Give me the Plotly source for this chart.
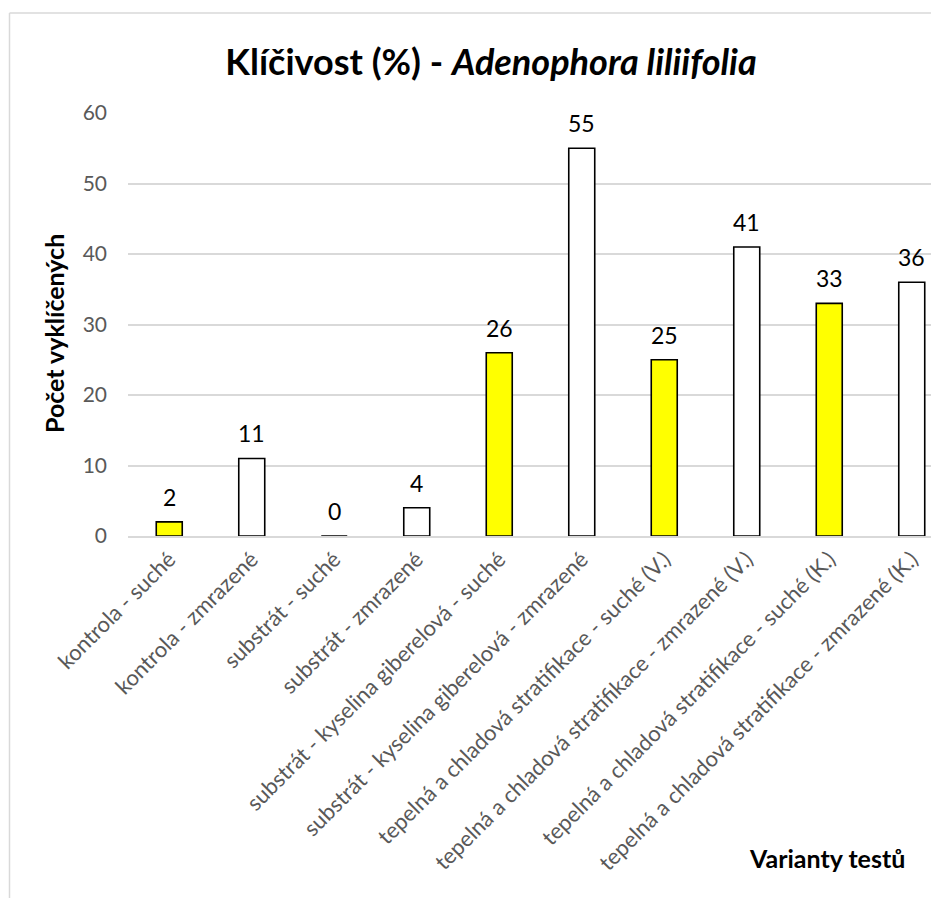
import plotly.graph_objects as go

categories = [
    "kontrola - suché",
    "kontrola - zmrazené",
    "substrát - suché",
    "substrát - zmrazené",
    "substrát - kyselina giberelová - suché",
    "substrát - kyselina giberelová - zmrazené",
    "tepelná a chladová stratifikace - suché (V.)",
    "tepelná a chladová stratifikace - zmrazené (V.)",
    "tepelná a chladová stratifikace - suché (K.)",
    "tepelná a chladová stratifikace - zmrazené (K.)",
]
values = [2, 11, 0, 4, 26, 55, 25, 41, 33, 36]
y_ticks = [0, 10, 20, 30, 40, 50, 60]

YELLOW = "#FFFF00"
WHITE = "#FFFFFF"
colors = [YELLOW if "suché" in c else WHITE for c in categories]

# page offset from default body margin
OFF = 8
W, H = 939 - OFF, 906 - 2 * OFF
# target page positions
PLOT_LEFT, PLOT_TOP, PLOT_BOTTOM = 128, 113, 536
L = PLOT_LEFT - OFF
T = PLOT_TOP - OFF
B = H - (PLOT_BOTTOM - OFF)
R = 0
pw = W - L - R
ph = H - T - B

def px_x(x):  # page x -> paper
    return (x - OFF - L) / pw

def px_y(y):  # page y -> paper
    return (PLOT_BOTTOM - y) / ph

FONT = "Lato"

fig = go.Figure()
fig.add_trace(go.Bar(
    x=list(range(len(categories))),
    y=values,
    width=0.315,
    marker=dict(color=colors, line=dict(color="#000000", width=1.6)),
    hoverinfo="skip",
))

annotations = []
for i, v in enumerate(values):
    annotations.append(dict(
        x=i, y=v, xref="x", yref="y", text=str(v), showarrow=False,
        yanchor="middle", yshift=25,
        font=dict(family=FONT, size=23, color="#000000"),
    ))

annotations.append(dict(
    x=px_x(54), y=px_y(334), xref="paper", yref="paper",
    text="<b>Počet vyklíčených</b>", textangle=-90, showarrow=False,
    xanchor="center", yanchor="middle",
    font=dict(family=FONT, size=25, color="#000000"),
))
annotations.append(dict(
    x=px_x(827), y=px_y(858), xref="paper", yref="paper",
    text="<b>Varianty testů</b>", showarrow=False,
    xanchor="center", yanchor="middle",
    font=dict(family=FONT, size=25, color="#000000"),
))

BORDER_X = OFF + 1.5
shapes = [
    dict(type="line", xref="paper", yref="paper",
         x0=px_x(BORDER_X), x1=px_x(BORDER_X), y0=px_y(13), y1=px_y(H + 40),
         line=dict(color="#D9D9D9", width=1.5)),
    dict(type="line", xref="paper", yref="paper",
         x0=px_x(BORDER_X), x1=px_x(W + 40), y0=px_y(13), y1=px_y(13),
         line=dict(color="#D9D9D9", width=1.5)),
]

fig.update_layout(
    width=W, height=H,
    margin=dict(l=L, r=R, t=T, b=B, autoexpand=False),
    paper_bgcolor="#FFFFFF",
    plot_bgcolor="#FFFFFF",
    showlegend=False,
    title=dict(
        text="<b>Klíčivost (%) - <i>Adenophora liliifolia</i></b>",
        x=(491 - OFF) / W, xanchor="center",
        y=1 - (62 - OFF) / H, yanchor="middle", yref="container",
        font=dict(family=FONT, size=36, color="#000000"),
    ),
    xaxis=dict(
        range=[-0.5, -0.5 + pw / 82.5],
        tickmode="array",
        tickvals=list(range(len(categories))),
        ticktext=categories,
        tickangle=-45,
        tickfont=dict(family=FONT, size=22, color="#595959"),
        showgrid=False,
        showline=True, linecolor="#D9D9D9", linewidth=1.5,
        ticks="",
        zeroline=False,
    ),
    yaxis=dict(
        range=[0, 60],
        tickmode="array",
        tickvals=y_ticks,
        tickfont=dict(family=FONT, size=21, color="#595959"),
        showgrid=True, gridcolor="#D9D9D9", gridwidth=1.5,
        zeroline=False,
        showline=False,
        ticks="",
        ticklabelstandoff=20,
    ),
    annotations=annotations,
    shapes=shapes,
)

fig.write_html("out.html")
